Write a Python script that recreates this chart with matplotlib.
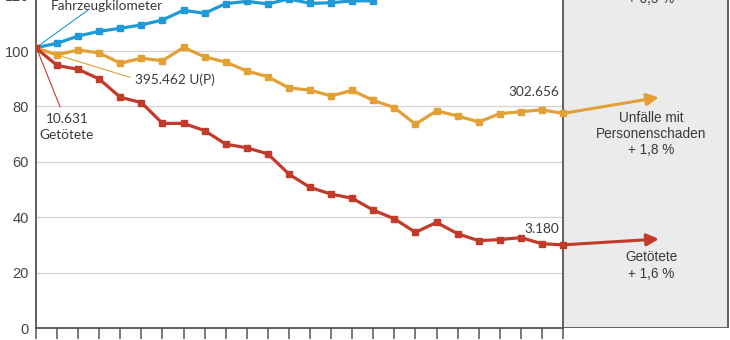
import matplotlib
matplotlib.use('Agg')
import matplotlib.pyplot as plt
from matplotlib.patches import Rectangle

# index values (1992 = 100)
years = list(range(1992, 2018))
getoetete = [101.1, 94.8, 93.4, 89.9, 83.3, 81.4, 73.9, 73.9, 71.3, 66.4, 65.1, 62.9, 55.6,
             50.8, 48.4, 46.9, 42.6, 39.5, 34.6, 38.2, 34.1, 31.6, 32.0, 32.7, 30.5, 30.1]
unfaelle = [101.1, 98.6, 100.4, 99.3, 95.6, 97.4, 96.5, 101.3, 97.9, 96.0, 92.8, 90.7, 86.7,
            85.9, 83.8, 85.8, 82.2, 79.6, 73.6, 78.4, 76.6, 74.4, 77.4, 78.1, 78.8, 77.5]
# only the part of the vehicle-km line that is visible in the picture
fahrzeugkm = [101.2, 102.8, 105.4, 107.1, 108.2, 109.4, 111.2, 114.7, 113.6, 117.1, 117.9,
              117.0, 118.8, 117.2, 117.4, 118.1, 118.1]

# arrow end points in the forecast zone
forecast_x = 29.55
unfaelle_forecast = 83.3
getoetete_forecast = 32.2

BLUE = '#1f9ad7'
ORANGE = '#e2a035'
RED = '#c23a2a'
TEXT = '#3a3a3a'
AXIS = '#555555'

fig = plt.figure(figsize=(7.3, 3.4), dpi=100)
ax = fig.add_axes([36 / 730, 11.7 / 340, 694 / 730, 1.0194])

n = len(years)
xs = list(range(n))

# forecast box
ax.add_patch(Rectangle((n - 1, 0), 7.85, 200, facecolor='#ebebeb', edgecolor=AXIS,
                       lw=1.3, zorder=1))

for y in range(20, 121, 20):
    ax.plot([0, n - 1], [y, y], color='#d2d2d2', lw=0.9, zorder=0)

line_kw = dict(lw=2.3, marker='s', markersize=4.8, zorder=3, solid_joinstyle='round')
ax.plot(xs[:len(fahrzeugkm)], fahrzeugkm, color=BLUE, **line_kw)
ax.plot(xs, unfaelle, color=ORANGE, **line_kw)
ax.plot(xs, getoetete, color=RED, **line_kw)

# forecast arrows
for start, end, col in [(unfaelle[-1], unfaelle_forecast, ORANGE),
                        (getoetete[-1], getoetete_forecast, RED)]:
    ax.annotate('', xy=(forecast_x, end), xytext=(n - 1, start),
                arrowprops=dict(arrowstyle='-|>', color=col, lw=2.2,
                                mutation_scale=18, shrinkA=0, shrinkB=0),
                zorder=4)

# leader lines and labels at the start
ax.plot([0.05, 2.47], [101.5, 114.8], color=BLUE, lw=0.8, zorder=2)
ax.plot([0.05, 4.46], [100.8, 90.5], color=ORANGE, lw=0.8, zorder=2)
ax.plot([0.05, 1.14], [100.6, 79.9], color=RED, lw=0.8, zorder=2)

lab_font = dict(family='Lato', fontsize=9.8, color=TEXT, va='center')
ax.text(0.71, 116.4, 'Fahrzeugkilometer', ha='left', **lab_font)
ax.text(4.7, 89.8, '395.462 U(P)', ha='left', **lab_font)
ax.text(1.47, 75.4, '10.631', ha='center', **lab_font)
ax.text(1.47, 69.7, 'Getötete', ha='center', **lab_font)
ax.text(24.81, 85.1, '302.656', ha='right', **lab_font)
ax.text(24.81, 35.7, '3.180', ha='right', **lab_font)

box_font = dict(family='Liberation Sans', fontsize=9.8, color=TEXT, ha='center', va='center')
box_lines = [(118.6, '+ 0,5 %'),
             (75.9, 'Unfälle mit'), (70.2, 'Personenschaden'), (64.3, '+ 1,8 %'),
             (25.7, 'Getötete'), (19.6, '+ 1,6 %')]
for yv, txt in box_lines:
    ax.text(29.2, yv, txt, **box_font)

ax.set_xlim(0, 694 / 21.08)
ax.set_ylim(0, 125)
ax.set_xticks(xs)
ax.set_xticklabels([])
ax.set_yticks(range(0, 121, 20))
ax.tick_params(axis='x', direction='out', length=8, width=1.1, color=AXIS)
ax.tick_params(axis='y', length=0, pad=5, labelsize=10.5, labelcolor='#444444')
for lbl in ax.get_yticklabels():
    lbl.set_family('Liberation Sans')

for side in ['top', 'right']:
    ax.spines[side].set_visible(False)
ax.spines['left'].set_color(AXIS)
ax.spines['bottom'].set_color(AXIS)
ax.spines['left'].set_linewidth(1.3)
ax.spines['bottom'].set_linewidth(1.3)
ax.spines['bottom'].set_bounds(0, n - 1)
ax.patch.set_visible(False)

fig.savefig('out.png', dpi=100)
